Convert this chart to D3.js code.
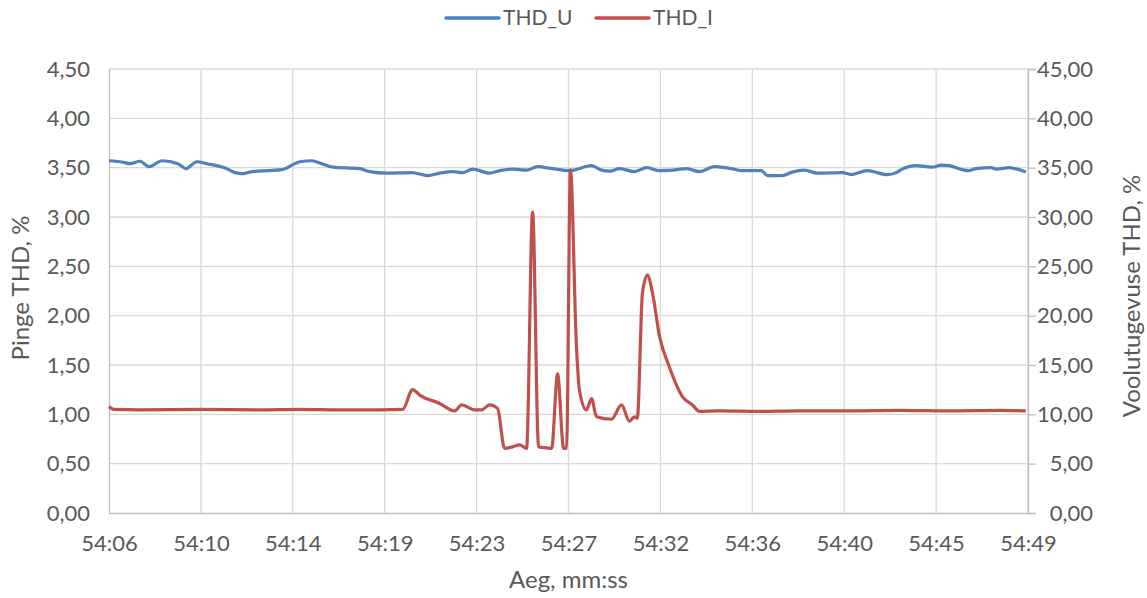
<!DOCTYPE html>
<html>
<head>
<meta charset="utf-8">
<script src="https://cdn.jsdelivr.net/npm/d3@7"></script>
<style>
  body { margin: 0; background: #fff; }
  text { font-family: Lato, "Open Sans", sans-serif; fill: #595959; }
</style>
</head>
<body>
<svg id="chart" width="1147" height="598"></svg>
<script>
// Time axis: seconds elapsed since 54:06, with the labels shown at each gridline
const xTickLabels = ["54:06", "54:10", "54:14", "54:19", "54:23", "54:27", "54:32", "54:36", "54:40", "54:45", "54:49"];
const spanSeconds = 43;

// Axis ticks
const leftTicks = [0, 0.5, 1, 1.5, 2, 2.5, 3, 3.5, 4, 4.5];
const rightTicks = [0, 5, 10, 15, 20, 25, 30, 35, 40, 45];

// Voltage THD, % (left axis)
const uSeconds = [0, 0.65, 0.98, 1.45, 1.87, 2.48, 3.23, 3.6, 4.11, 4.58, 5.51, 5.89, 6.26, 6.59, 7.38, 8.09, 8.93, 9.49, 9.95, 10.47,
  11.73, 12.2, 12.99, 14.16, 14.91, 15.47, 16.08, 16.55, 17.01, 17.81, 18.28, 18.88, 19.54, 20.05, 20.75, 21.55, 22.58, 23.04, 23.42, 23.89,
  24.59, 25.15, 25.76, 26.36, 27.02, 27.63, 28.33, 29.12, 29.59, 30.52, 30.8, 31.5, 31.97, 32.53, 33.14, 34.31, 34.73, 35.48, 36.41, 36.83,
  37.11, 37.76, 38.51, 38.93, 39.31, 39.92, 40.24, 40.57, 41.27, 41.55, 42.11, 42.9];
const uValues = [3.57, 3.555, 3.54, 3.565, 3.51, 3.57, 3.54, 3.49, 3.56, 3.54, 3.49, 3.45, 3.44, 3.455, 3.47, 3.48, 3.56, 3.57, 3.54, 3.505,
  3.49, 3.46, 3.445, 3.45, 3.42, 3.445, 3.46, 3.45, 3.485, 3.445, 3.47, 3.485, 3.475, 3.51, 3.49, 3.47, 3.52, 3.475, 3.465, 3.49,
  3.46, 3.50, 3.47, 3.475, 3.49, 3.46, 3.51, 3.49, 3.47, 3.47, 3.42, 3.42, 3.455, 3.475, 3.445, 3.45, 3.43, 3.47, 3.43, 3.45,
  3.485, 3.52, 3.505, 3.525, 3.52, 3.48, 3.47, 3.49, 3.50, 3.485, 3.50, 3.455];

// Current THD, % (right axis)
const iSeconds = [0, 0.23, 1.45, 4.25, 7.06, 8.93, 10.8, 12.67, 13.74, 14.21, 14.54, 15.47, 16.17, 16.5, 17.11, 17.43, 17.81, 18.18, 18.51, 18.88,
  19.21, 19.54, 19.82, 20.1, 20.47, 20.71, 20.99, 21.27, 21.41, 21.59, 21.87, 22.01, 22.34, 22.58, 22.81, 23.51, 23.98, 24.35, 24.59, 24.72,
  24.96, 25.19, 25.43, 25.76, 26.22, 26.83, 27.3, 27.63, 28.56, 30.43, 32.3, 34.63, 36.97, 39.31, 41.64, 42.9];
const iValues = [10.8, 10.5, 10.45, 10.5, 10.45, 10.5, 10.45, 10.45, 10.5, 12.5, 11.95, 11.1, 10.35, 10.95, 10.45, 10.45, 10.95, 10.6, 6.55, 6.7,
  6.9, 6.55, 30.5, 6.7, 6.6, 6.55, 14.1, 6.55, 6.6, 34.8, 17.0, 12.5, 10.45, 11.6, 9.75, 9.5, 10.95, 9.3, 9.75, 9.6,
  22.3, 24.1, 22.3, 17.9, 14.8, 11.8, 10.95, 10.3, 10.35, 10.3, 10.35, 10.35, 10.4, 10.35, 10.4, 10.35];

const seriesNames = ["THD_U", "THD_I"];
const seriesColors = ["#4F81BD", "#C0504D"];

const svg = d3.select("#chart");
const W = 1147, H = 598;
const m = { top: 69, right: 119, bottom: 85, left: 109 };
const iw = W - m.left - m.right, ih = H - m.top - m.bottom;

const fmt = d3.formatLocale({ decimal: ",", thousands: " ", grouping: [3], currency: ["", " €"] }).format(".2f");

const x = d3.scaleLinear().domain([0, spanSeconds]).range([m.left, m.left + iw]);
const yL = d3.scaleLinear().domain([0, 4.5]).range([m.top + ih, m.top]);
const yR = d3.scaleLinear().domain([0, 45]).range([m.top + ih, m.top]);
const xTickPos = xTickLabels.map((_, i) => i * spanSeconds / (xTickLabels.length - 1));

// Gridlines
const grid = svg.append("g").attr("stroke", "#D9D9D9").attr("stroke-width", 1.3);
grid.selectAll("line.h").data(leftTicks.slice(1)).join("line")
  .attr("x1", m.left).attr("x2", m.left + iw)
  .attr("y1", d => yL(d)).attr("y2", d => yL(d));
grid.selectAll("line.v").data(xTickPos.slice(1)).join("line")
  .attr("y1", m.top).attr("y2", m.top + ih)
  .attr("x1", d => x(d)).attr("x2", d => x(d));

// Left axis
const gL = svg.append("g").attr("transform", `translate(${m.left},0)`)
  .call(d3.axisLeft(yL).tickValues(leftTicks).tickFormat(fmt).tickSize(0).tickPadding(19));
// Right axis (labels right-aligned)
const gR = svg.append("g").attr("transform", `translate(${m.left + iw},0)`)
  .call(d3.axisRight(yR).tickValues(rightTicks).tickFormat(fmt).tickSize(8));
gR.selectAll(".tick text").attr("x", 65).attr("text-anchor", "end");
// Bottom axis
const gB = svg.append("g").attr("transform", `translate(0,${m.top + ih})`)
  .call(d3.axisBottom(x).tickValues(xTickPos).tickFormat((d, i) => xTickLabels[i]).tickSize(0).tickPadding(22));

[gL, gR, gB].forEach(g => {
  g.select(".domain").attr("stroke", "#BFBFBF").attr("stroke-width", 1.3);
  g.selectAll(".tick line").attr("stroke", "#BFBFBF").attr("stroke-width", 1.3);
  g.selectAll(".tick text").style("font-family", "Lato, sans-serif").style("font-size", "22px").attr("fill", "#595959");
});

// Series lines
const lineU = d3.line().x(d => x(d[0])).y(d => yL(d[1])).curve(d3.curveMonotoneX);
const lineI = d3.line().x(d => x(d[0])).y(d => yR(d[1])).curve(d3.curveMonotoneX);
svg.append("path").datum(d3.zip(uSeconds, uValues)).attr("d", lineU)
  .attr("fill", "none").attr("stroke", seriesColors[0]).attr("stroke-width", 3.2).attr("stroke-linejoin", "round");
svg.append("path").datum(d3.zip(iSeconds, iValues)).attr("d", lineI)
  .attr("fill", "none").attr("stroke", seriesColors[1]).attr("stroke-width", 3.2).attr("stroke-linejoin", "round");

// Axis titles
svg.append("text").attr("transform", "translate(29,288) rotate(-90)")
  .attr("text-anchor", "middle").style("font-size", "24px").text("Pinge THD, %");
svg.append("text").attr("transform", "translate(1140,296) rotate(-90)")
  .attr("text-anchor", "middle").style("font-size", "24px").text("Voolutugevuse THD, %");
svg.append("text").attr("x", m.left + iw / 2).attr("y", 588)
  .attr("text-anchor", "middle").style("font-size", "24px").text("Aeg, mm:ss");

// Legend
const legendX = [446, 596];
const lg = svg.append("g");
seriesNames.forEach((name, i) => {
  lg.append("line").attr("x1", legendX[i]).attr("x2", legendX[i] + 53).attr("y1", 18).attr("y2", 18)
    .attr("stroke", seriesColors[i]).attr("stroke-width", 3.5).attr("stroke-linecap", "round");
  lg.append("text").attr("x", legendX[i] + 57).attr("y", 18).attr("dy", "0.35em")
    .style("font-size", "21px").text(name);
});
</script>
</body>
</html>
